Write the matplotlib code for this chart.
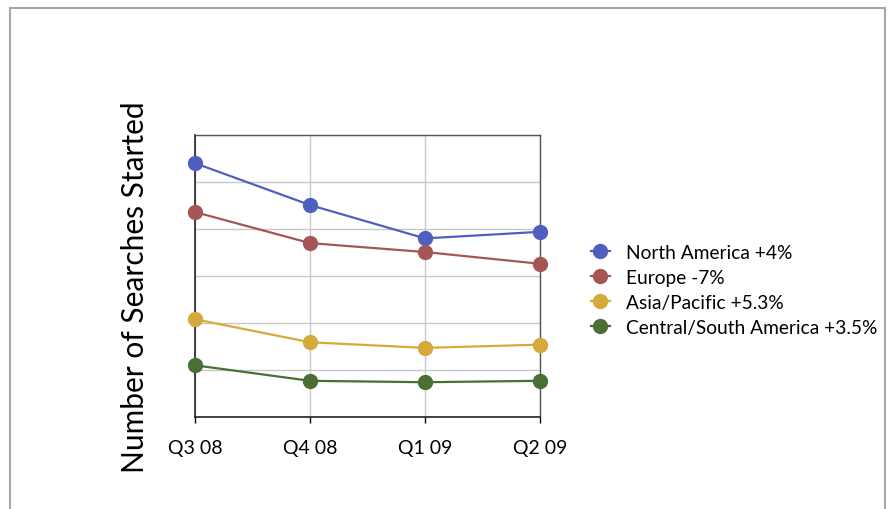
import matplotlib.pyplot as plt
from matplotlib.lines import Line2D
from matplotlib.patches import Rectangle

plt.rcParams['font.family'] = ['Lato', 'DejaVu Sans']

quarters = ['Q3 08', 'Q4 08', 'Q1 09', 'Q2 09']
north_america = [5.40, 4.51, 3.80, 3.94]
europe = [4.36, 3.70, 3.51, 3.26]
asia_pacific = [2.08, 1.59, 1.47, 1.54]
central_south_america = [1.10, 0.77, 0.74, 0.77]

series_labels = ['North America +4%', 'Europe -7%', 'Asia/Pacific +5.3%',
                 'Central/South America +3.5%']
colors = ['#4f5fc0', '#a65555', '#d6a93b', '#4a6f34']

fig = plt.figure(figsize=(8.88, 5.10), dpi=100)
ax = fig.add_axes([195 / 888, 92 / 510, 345 / 888, 282 / 510])

x = list(range(len(quarters)))
handles = []
for vals, c, lab in zip([north_america, europe, asia_pacific, central_south_america],
                        colors, series_labels):
    ax.plot(x, vals, color=c, lw=1.6, marker='o', ms=10, clip_on=False, zorder=3)
    handles.append(Line2D([], [], color=c, lw=1.6, marker='o', ms=10, label=lab))

ax.set_xlim(0, 3)
ax.set_ylim(0, 6)
ax.set_xticks(x)
ax.set_xticklabels(quarters, fontsize=14)
ax.set_yticks(range(7))
ax.tick_params(axis='y', length=0, labelleft=False)
ax.tick_params(axis='x', length=4, width=1, pad=12, direction='out')
ax.grid(True, color='#c8c8c8', lw=1)
ax.set_axisbelow(True)
for side in ['left', 'bottom']:
    ax.spines[side].set_color('#222222')
    ax.spines[side].set_linewidth(1.2)
for side in ['top', 'right']:
    ax.spines[side].set_color('#555555')
    ax.spines[side].set_linewidth(1.0)

fig.text(135 / 888, 1 - 287 / 510, 'Number of Searches Started', rotation=90,
         ha='center', va='center', fontsize=21.5)

fig.legend(handles=handles, loc='center left', bbox_to_anchor=(583 / 888, 1 - 291 / 510),
           frameon=False, fontsize=13.8, handlelength=1.0, handletextpad=0.85,
           labelspacing=0.42, borderaxespad=0)

# outer frame, open at the bottom
fig.patches.append(Rectangle((10 / 888, -0.1), 875 / 888, 1.1 - 9 / 510,
                             transform=fig.transFigure, fill=False,
                             edgecolor='#a8a8a8', lw=1.5, clip_on=False))

fig.savefig('out.png', dpi=100)
